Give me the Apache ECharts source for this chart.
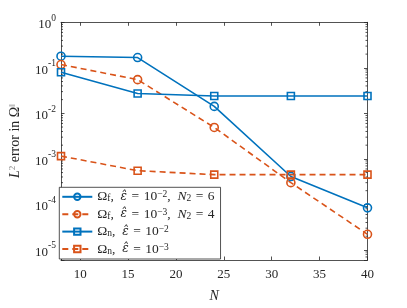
<!DOCTYPE html>
<html>
<head>
<meta charset="utf-8">
<script src="https://cdn.jsdelivr.net/npm/echarts@6/dist/echarts.min.js"></script>
<style>html,body{margin:0;padding:0;background:#fff}#c{width:407px;height:308px}</style>
</head>
<body>
<div id="c"></div>
<script>
const nValues = [8, 16, 24, 32, 40];
const omegaF_eps2 = [0.180, 0.168, 0.0142, 4.1e-4, 8.4e-5];
const omegaF_eps3 = [0.118, 0.055, 4.9e-3, 3.0e-4, 2.2e-5];
const omegaN_eps2 = [0.080, 0.0272, 0.0240, 0.0241, 0.0241];
const omegaN_eps3 = [1.15e-3, 5.5e-4, 4.5e-4, 4.5e-4, 4.5e-4];
const seriesNames = ['Ωf e2 N6', 'Ωf e3 N4', 'Ωn e2', 'Ωn e3'];
const SP = '\u2002', EQ = '\u2004=\u2004';
const legendLabels = [
  '{t|Ω}{sub|f}{t|,' + SP + '}{e|ε̂}{t|' + EQ + '10}{sup|−2}{t|,' + SP + '}{i|N}{sub|2}{t|' + EQ + '6}',
  '{t|Ω}{sub|f}{t|,' + SP + '}{e|ε̂}{t|' + EQ + '10}{sup|−3}{t|,' + SP + '}{i|N}{sub|2}{t|' + EQ + '4}',
  '{t|Ω}{sub|n}{t|,' + SP + '}{e|ε̂}{t|' + EQ + '10}{sup|−2}',
  '{t|Ω}{sub|n}{t|,' + SP + '}{e|ε̂}{t|' + EQ + '10}{sup|−3}'
];
const xLimits = [8, 40];
const yLimits = [6e-6, 1];

const BLUE = '#0072BD', ORANGE = '#D95319', AX = '#262626';
const FONT = '"Liberation Serif","DejaVu Serif",serif';
const chart = echarts.init(document.getElementById('c'), null, {renderer: 'canvas'});

function pairs(arr) { return nValues.map((n, i) => [n, arr[i]]); }
function mkSeries(name, data, color, dashed, symbol, size) {
  return {
    name, type: 'line', data: pairs(data), symbol, symbolSize: size,
    showSymbol: true,
    lineStyle: {color, width: 1.6, type: dashed ? [6, 4] : 'solid'},
    itemStyle: {color: 'rgba(255,255,255,0)', borderColor: color, borderWidth: 1.6},
    emphasis: {disabled: true}, z: 3
  };
}
const richTxt = {
  t: {fontFamily: FONT, fontSize: 13.5, color: AX, lineHeight: 14},
  i: {fontFamily: FONT, fontSize: 13.5, fontStyle: 'italic', color: AX, lineHeight: 14},
  e: {fontFamily: '"DejaVu Serif",serif', fontSize: 12, fontStyle: 'italic', color: AX, lineHeight: 14},
  sub: {fontFamily: FONT, fontSize: 9.5, color: AX, lineHeight: 8, verticalAlign: 'bottom'},
  sup: {fontFamily: FONT, fontSize: 9.5, color: AX, lineHeight: 8, verticalAlign: 'top'}
};
const yFmt = v => {
  const l = Math.log10(v), e = Math.round(l);
  if (Math.abs(l - e) > 1e-6) return '';
  return '{z|\u200b}{b|10}{s|' + e + '}';
};
const axisCommon = {
  axisLine: {show: true, lineStyle: {color: AX, width: 0.8}},
  axisTick: {show: true, inside: true, length: 3.5, lineStyle: {color: AX, width: 0.8}},
  splitLine: {show: false}
};

const option = {
  animation: false,
  grid: {left: 52.6, right: 39.5, top: 22.3, bottom: 39.7, containLabel: false},
  xAxis: [
    Object.assign({type: 'value', min: xLimits[0], max: xLimits[1], position: 'bottom',
      name: 'N', nameLocation: 'middle', nameGap: 29,
      nameTextStyle: {fontFamily: FONT, fontSize: 14, fontStyle: 'italic', color: AX},
      axisLabel: {fontFamily: FONT, fontSize: 13, color: AX, margin: 8,
        formatter: v => (v === xLimits[0] ? '' : String(v))}}, axisCommon),
    Object.assign({type: 'value', min: xLimits[0], max: xLimits[1], position: 'top',
      axisLabel: {show: false}}, axisCommon)
  ],
  yAxis: [
    Object.assign({type: 'log', logBase: 10, min: yLimits[0], max: yLimits[1], position: 'left',
      name: '{i|L}{s|2}{t| error in Ω}{s|‖}', nameLocation: 'middle', nameGap: 38, nameRotate: 90,
      nameTextStyle: {rich: {
        i: {fontFamily: FONT, fontSize: 14, fontStyle: 'italic', color: AX, lineHeight: 15},
        t: {fontFamily: FONT, fontSize: 14, color: AX, lineHeight: 15},
        s: {fontFamily: FONT, fontSize: 9, color: '#888', lineHeight: 9, verticalAlign: 'top'}
      }},
      axisLabel: {margin: 5, formatter: yFmt, rich: {
        z: {fontSize: 1, lineHeight: 18},
        b: {fontFamily: FONT, fontSize: 13, color: AX, lineHeight: 13, verticalAlign: 'bottom'},
        s: {fontFamily: FONT, fontSize: 9.5, color: AX, lineHeight: 12, verticalAlign: 'top'}
      }}}, axisCommon),
    Object.assign({type: 'log', logBase: 10, min: yLimits[0], max: yLimits[1], position: 'right',
      axisLabel: {show: false}}, axisCommon)
  ],
  legend: {
    orient: 'vertical', left: 59.3, top: 187.3,
    data: seriesNames,
    itemWidth: 30, itemHeight: 8, itemGap: 3.4,
    padding: [2.5, 6, 3, 2], borderColor: AX, borderWidth: 0.8, backgroundColor: '#fff',
    formatter: name => legendLabels[seriesNames.indexOf(name)],
    textStyle: {fontFamily: FONT, fontSize: 13.5, color: AX, rich: richTxt},
    selectedMode: false
  },
  series: [
    mkSeries(seriesNames[0], omegaF_eps2, BLUE, false, 'circle', 8),
    mkSeries(seriesNames[1], omegaF_eps3, ORANGE, true, 'circle', 8),
    mkSeries(seriesNames[2], omegaN_eps2, BLUE, false, 'rect', 7),
    mkSeries(seriesNames[3], omegaN_eps3, ORANGE, true, 'rect', 7)
  ]
};
chart.setOption(option);

// MATLAB-style minor ticks on the log axes (2..9 x 10^k)
const minor = [];
const xl = chart.convertToPixel({xAxisIndex: 0}, xLimits[0]);
const xr = chart.convertToPixel({xAxisIndex: 0}, xLimits[1]);
for (let d = -6; d < 0; d++) {
  for (let k = 2; k <= 9; k++) {
    const v = k * Math.pow(10, d);
    if (v <= yLimits[0] || v >= yLimits[1]) continue;
    const y = chart.convertToPixel({yAxisIndex: 0}, v);
    minor.push({type: 'line', shape: {x1: xl, y1: y, x2: xl + 2, y2: y}, style: {stroke: AX, lineWidth: 0.8}, silent: true});
    minor.push({type: 'line', shape: {x1: xr, y1: y, x2: xr - 2, y2: y}, style: {stroke: AX, lineWidth: 0.8}, silent: true});
  }
}
chart.setOption({graphic: minor});
</script>
</body>
</html>
